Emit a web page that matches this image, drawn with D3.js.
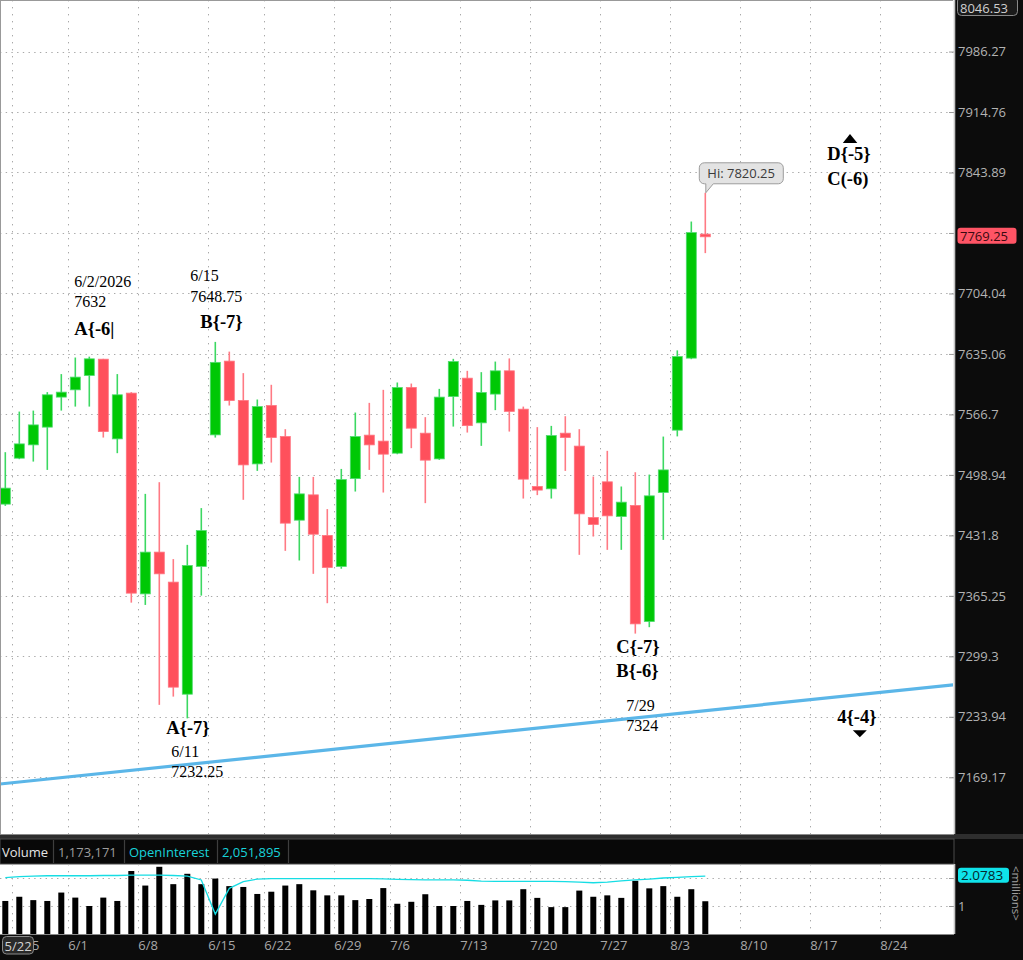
<!DOCTYPE html>
<html lang="en">
<head>
<meta charset="UTF-8">
<title>candles</title>
<script src="https://cdn.jsdelivr.net/npm/d3@7/dist/d3.min.js"></script>
<style>
  body { margin: 0; background: #0c0c0c; overflow: hidden; }
  svg { display: block; }
</style>
</head>
<body>
<script>
  // ---- data ----
  var dates = ["5/22","5/26","5/27","5/28","5/29","6/1","6/2","6/3","6/4","6/5",
    "6/8","6/9","6/10","6/11","6/12","6/15","6/16","6/17","6/18","6/22",
    "6/23","6/24","6/25","6/26","6/29","6/30","7/1","7/2","7/6","7/7",
    "7/8","7/9","7/10","7/13","7/14","7/15","7/16","7/17","7/20","7/21",
    "7/22","7/23","7/24","7/27","7/28","7/29","7/30","7/31","8/3","8/4","8/5"];
  var opens = [7466.4,7517.6,7532.5,7552.4,7586.2,7594.4,7610.6,7629.1,7539.2,7590.7,
    7367.4,7413.3,7380.3,7258.3,7397.5,7543.7,7626.9,7582.3,7511.2,7576.7,
    7541.8,7448.6,7476.7,7431.6,7397.5,7494.8,7543.4,7536.7,7523.2,7597.0,
    7545.6,7516.8,7586.8,7607.6,7557.2,7589.6,7615.9,7572.6,7486.0,7483.4,
    7545.6,7531.1,7451.5,7491.2,7452.6,7464.9,7337.1,7479.3,7549.0,7630.3,7772.3];
  var highs = [7524.3,7569.9,7571.0,7591.8,7612.2,7631.0,7632.0,7629.5,7612.2,7591.8,
    7477.8,7490.8,7405.6,7421.3,7462.0,7648.75,7637.7,7613.3,7583.5,7600.1,
    7550.1,7496.7,7496.7,7460.9,7505.6,7568.8,7579.7,7594.4,7602.7,7601.5,
    7563.6,7595.5,7629.5,7615.9,7614.4,7626.4,7630.0,7575.5,7552.4,7553.8,
    7564.7,7550.1,7497.1,7525.8,7486.0,7501.9,7499.3,7541.8,7639.1,7786.9,7820.25];
  var lows = [7464.5,7516.5,7513.8,7504.5,7571.0,7575.5,7575.5,7540.7,7523.2,7357.8,
    7355.3,7246.8,7255.7,7232.25,7365.5,7540.7,7576.7,7471.2,7503.4,7512.7,
    7414.7,7404.1,7389.4,7357.2,7395.0,7480.4,7504.5,7479.3,7522.0,7528.8,
    7467.5,7515.7,7553.0,7546.3,7531.4,7571.5,7547.4,7472.6,7476.4,7472.6,
    7503.4,7410.3,7430.5,7415.8,7415.8,7324.0,7331.0,7426.8,7542.0,7629.1,7750.4];
  var closes = [7484.2,7533.6,7554.9,7588.8,7591.8,7608.8,7629.5,7547.4,7588.8,7368.2,
    7413.3,7389.4,7265.9,7398.6,7437.1,7625.5,7582.3,7510.1,7575.5,7540.7,
    7445.3,7477.8,7433.1,7396.4,7493.7,7541.8,7532.5,7522.1,7597.0,7551.2,
    7515.4,7586.2,7626.4,7554.1,7591.4,7615.9,7570.1,7494.2,7482.0,7542.9,
    7540.7,7455.6,7443.8,7453.4,7468.6,7334.6,7475.6,7504.5,7632.1,7774.1,7769.25];
  // volume and open interest, millions
  var volumes = [1.18,1.33,1.21,1.18,1.48,1.30,1.00,1.30,1.18,2.25,
    1.73,2.40,1.78,2.15,1.78,1.98,1.71,1.68,1.43,1.51,
    1.73,1.78,1.56,1.38,1.38,1.21,1.25,1.64,1.08,1.15,
    1.42,1.00,1.00,1.18,1.04,1.20,1.20,1.60,1.29,0.96,
    0.96,1.55,1.33,1.38,1.29,1.90,1.63,1.71,1.33,1.60,1.17];
  var openInterest = [2.01,2.05,2.07,2.08,2.08,2.08,2.08,2.09,2.09,2.10,
    2.10,2.10,2.09,2.07,1.93,0.71,1.63,1.87,1.96,1.98,
    1.98,1.98,1.98,1.98,1.98,1.98,1.98,1.97,1.95,1.94,
    1.93,1.93,1.93,1.92,1.89,1.88,1.88,1.88,1.88,1.88,
    1.87,1.85,1.83,1.85,1.90,1.93,1.96,2.00,2.02,2.05,2.07];
  var priceTicks = [7986.27,7914.76,7843.89,7773.66,7704.04,7635.06,7566.7,
    7498.94,7431.8,7365.25,7299.3,7233.94,7169.17];
  var priceTop = 8046.53;
  var volumeTicks = [0, 1, 2];
  var weekLabels = ["5/25","6/1","6/8","6/15","6/22","6/29","7/6","7/13",
    "7/20","7/27","8/3","8/10","8/17","8/24"];
  var holidays = ["5/25","6/19","7/3"];
  var trendline = [{i: -0.38, p: 7162.0}, {i: 67.7, p: 7268.4}];
  var headerCells = ["Volume", "1,173,171", "OpenInterest", "2,051,895"];
  var oiLast = "2.0783";

  // ---- layout ----
  var width = 1023, height = 960;
  var plotRight = 953;
  var priceBottom = 834, volTop = 864, volBottom = 934;

  var svg = d3.select("body").append("svg")
      .attr("width", width).attr("height", height)
      .style("font-family", "'Open Sans', sans-serif");

  svg.append("rect").attr("width", width).attr("height", height).attr("fill", "#0c0c0c");
  svg.append("rect").attr("x", 0).attr("y", 0).attr("width", plotRight + 1)
      .attr("height", priceBottom).attr("fill", "#fff");
  svg.append("rect").attr("x", 0).attr("y", volTop).attr("width", plotRight + 1)
      .attr("height", volBottom - volTop).attr("fill", "#fff");

  var defs = svg.append("defs");
  defs.append("clipPath").attr("id", "clipPrice").append("rect")
      .attr("x", 0).attr("y", 0).attr("width", plotRight).attr("height", priceBottom);
  defs.append("clipPath").attr("id", "clipVol").append("rect")
      .attr("x", 0).attr("y", volTop).attr("width", plotRight).attr("height", volBottom - volTop);
  // local coords of the axis group (translated to x=954)
  defs.append("clipPath").attr("id", "clipVolAxis").append("rect")
      .attr("x", -10).attr("y", volTop - 4).attr("width", 80).attr("height", volBottom - volTop + 3);

  // ---- scales ----
  var x = d3.scaleLinear().domain([0, 50]).range([5.3, 705.3]);
  var y = d3.scaleLog().domain([7110, priceTop]).range([833, 1]);
  var yv = d3.scaleLinear().domain([0, 2.5]).range([volBottom, volTop]);

  // trading sessions, used to place the weekly grid
  var parse = function(s) { var a = s.split("/"); return new Date(2026, +a[0] - 1, +a[1]); };
  var fmt = d3.timeFormat("%-m/%-d");
  var sessions = d3.timeDay.range(parse("5/22"), parse("9/10"))
      .filter(function(d) { return d.getDay() % 6 !== 0 && holidays.indexOf(fmt(d)) < 0; });
  var weeks = weekLabels.map(function(w) {
    var t = parse(w);
    var idx = sessions.findIndex(function(d) { return d >= t; });
    return {label: w, pos: idx - 0.5};
  });

  var candles = dates.map(function(d, i) {
    return {i: i, date: d, o: opens[i], h: highs[i], l: lows[i], c: closes[i]};
  });
  var isUp = function(d) { return d.c >= d.o; };
  var last = candles[candles.length - 1];

  // ---- price panel ----
  var price = svg.append("g").attr("clip-path", "url(#clipPrice)");

  price.selectAll(".hgrid").data(priceTicks).join("line")
      .attr("x1", 0).attr("x2", plotRight)
      .attr("y1", function(d) { return Math.round(y(d)) + 0.5; })
      .attr("y2", function(d) { return Math.round(y(d)) + 0.5; })
      .attr("stroke", "#a9a9a9").attr("stroke-dasharray", "1.4,4.3");
  price.selectAll(".vgrid").data(weeks).join("line")
      .attr("x1", function(d) { return Math.round(x(d.pos)) + 0.5; })
      .attr("x2", function(d) { return Math.round(x(d.pos)) + 0.5; })
      .attr("y1", 0).attr("y2", priceBottom)
      .attr("stroke", "#a9a9a9").attr("stroke-dasharray", "1.4,5.6");

  // trend line
  price.append("line")
      .attr("x1", x(trendline[0].i)).attr("y1", y(trendline[0].p))
      .attr("x2", x(trendline[1].i)).attr("y2", y(trendline[1].p))
      .attr("stroke", "#5bb6e8").attr("stroke-width", 3.2);

  // candles
  price.selectAll(".wick").data(candles).join("line")
      .attr("x1", function(d) { return x(d.i); })
      .attr("x2", function(d) { return x(d.i); })
      .attr("y1", function(d) { return y(d.h); })
      .attr("y2", function(d) { return y(d.l); })
      .attr("stroke", function(d) { return isUp(d) ? "#3cd862" : "#ff7a84"; })
      .attr("stroke-width", 1.6);
  price.selectAll(".body").data(candles).join("rect")
      .attr("x", function(d) { return x(d.i) - 5; })
      .attr("width", 10)
      .attr("y", function(d) { return y(Math.max(d.o, d.c)); })
      .attr("height", function(d) { return Math.max(2, Math.abs(y(d.o) - y(d.c))); })
      .attr("fill", function(d) { return isUp(d) ? "#00c805" : "#ff505c"; })
      .attr("stroke", function(d) { return isUp(d) ? "#4fdc70" : "#ff7480"; })
      .attr("stroke-width", 0.8);

  // text annotations, offsets relative to an anchor candle / price
  var notes = [
    {i: 6, p: 7632, lines: [["6/2/2026", -15, -70, 0], ["7632", -15, -50, 0], ["A{-6|", -15, -22, 1]]},
    {i: 15, p: 7648.75, lines: [["6/15", -25, -61, 0], ["7648.75", -25, -40, 0], ["B{-7}", -15, -14, 1]]},
    {i: 13, p: 7232.25, lines: [["A{-7}", -21, 16, 1], ["6/11", -16, 39, 0], ["7232.25", -16, 59, 0]]},
    {i: 45, p: 7324, lines: [["C{-7}", -19, 19, 1], ["B{-6}", -19, 43, 1], ["7/29", -9, 77, 0], ["7324", -9, 97, 0]]},
    {i: 60, p: 7880, lines: [["D{-5}", -18, 18, 1], ["C(-6)", -18, 43.5, 1]]},
    {i: 61, p: 7220, lines: [["4{-4}", -22, -7, 1]]}
  ];
  notes.forEach(function(n) {
    var ax = x(n.i), ay = y(n.p);
    price.selectAll(null).data(n.lines).join("text")
        .attr("x", function(l) { return ax + l[1]; })
        .attr("y", function(l) { return ay + l[2]; })
        .attr("font-family", "'Liberation Serif', 'Times New Roman', serif")
        .attr("font-size", function(l) { return l[3] ? 18.5 : 16; })
        .attr("font-weight", function(l) { return l[3] ? "bold" : "normal"; })
        .attr("fill", "#000")
        .text(function(l) { return l[0]; });
  });
  // up / down markers
  var upAx = x(60), upAy = y(7880);
  price.append("path")
      .attr("d", "M" + (upAx - 2.5) + "," + (upAy + 1.5) + "L" + (upAx + 12) + "," + (upAy + 1.5) +
        "L" + (upAx + 4.7) + "," + (upAy - 7.5) + "Z")
      .attr("fill", "#000");
  var dnAx = x(61), dnAy = y(7220);
  price.append("path")
      .attr("d", "M" + (dnAx - 6.5) + "," + (dnAy + 0.5) + "L" + (dnAx + 7.5) + "," + (dnAy + 0.5) +
        "L" + (dnAx + 0.5) + "," + (dnAy + 7.5) + "Z")
      .attr("fill", "#000");

  // high callout on the last bar
  var hx = x(last.i), hy = y(last.h);
  var bx0 = hx - 6, bx1 = hx + 78, by0 = hy - 30, by1 = hy - 9, r = 5;
  var callout = "M" + (bx0 + r) + "," + by0 + "H" + (bx1 - r) +
      "A" + r + "," + r + " 0 0 1 " + bx1 + "," + (by0 + r) + "V" + (by1 - r) +
      "A" + r + "," + r + " 0 0 1 " + (bx1 - r) + "," + by1 + "H" + (hx + 8) +
      "L" + (hx + 0.5) + "," + hy + "L" + (hx + 0.5) + "," + by1 + "H" + (bx0 + r) +
      "A" + r + "," + r + " 0 0 1 " + bx0 + "," + (by1 - r) + "V" + (by0 + r) +
      "A" + r + "," + r + " 0 0 1 " + (bx0 + r) + "," + by0 + "Z";
  price.append("path").attr("d", callout)
      .attr("fill", "#e3e3e3").attr("stroke", "#9c9c9c").attr("stroke-width", 1);
  price.append("text").attr("x", hx + 2).attr("y", hy - 14.5)
      .attr("font-size", 13).attr("fill", "#3a3a3a")
      .text("Hi: " + last.h);

  // panel borders
  svg.append("line").attr("x1", 0).attr("x2", plotRight).attr("y1", 0.5).attr("y2", 0.5)
      .attr("stroke", "#999");
  svg.append("line").attr("x1", 0.5).attr("x2", 0.5).attr("y1", 0).attr("y2", priceBottom)
      .attr("stroke", "#999");

  // ---- right price axis ----
  var lastY = y(last.c);
  var axisP = svg.append("g").attr("transform", "translate(954,0)")
      .call(d3.axisRight(y).tickValues(priceTicks).tickSize(-5).tickPadding(4)
        .tickFormat(function(d) { return String(d); }));
  axisP.select(".domain").remove();
  axisP.selectAll(".tick line").attr("stroke", "#9a9a9a");
  axisP.selectAll(".tick text").attr("fill", "#b3b3b3")
      .attr("font-size", 13).attr("font-family", "'Open Sans', sans-serif");
  // the last-price box hides the tick label it sits on
  axisP.selectAll(".tick").filter(function(d) { return Math.abs(y(d) - lastY) < 14; })
      .select("text").remove();
  svg.append("line").attr("x1", 954.5).attr("x2", 954.5).attr("y1", 0).attr("y2", priceBottom)
      .attr("stroke", "#c4c4c4").attr("stroke-width", 1.6);

  // top value box
  svg.append("rect").attr("x", 957.5).attr("y", -3).attr("width", 60).attr("height", 18.5)
      .attr("rx", 4).attr("fill", "#1b1b1b").attr("stroke", "#8a8a8a");
  svg.append("text").attr("x", 960).attr("y", 12.5).attr("font-size", 13)
      .attr("fill", "#cfcfcf").text(String(priceTop));

  // last price box
  svg.append("rect").attr("x", 957.5).attr("y", lastY - 9).attr("width", 59).attr("height", 16)
      .attr("rx", 3).attr("fill", "#ff5465");
  svg.append("text").attr("x", 960).attr("y", lastY + 4.3).attr("font-size", 13)
      .attr("fill", "#3a0a10").text(last.c.toFixed(2));

  // ---- separator + header row ----
  svg.append("rect").attr("x", 0).attr("y", priceBottom).attr("width", width).attr("height", 5)
      .attr("fill", "#2e2e2e");
  svg.append("line").attr("x1", 0).attr("x2", plotRight + 1).attr("y1", priceBottom + 0.5)
      .attr("y2", priceBottom + 0.5).attr("stroke", "#8a8a8a");
  svg.append("rect").attr("x", 0).attr("y", 839).attr("width", plotRight + 1).attr("height", 25)
      .attr("fill", "#080808").attr("stroke", "#4a4a4a");
  var cellX = [2, 58, 129, 222], cellSep = [53, 124, 217, 288];
  var cellColor = ["#e4e4e4", "#9d9d9d", "#18d3da", "#18d3da"];
  svg.selectAll(".hcell").data(headerCells).join("text")
      .attr("x", function(d, i) { return cellX[i]; }).attr("y", 856.5)
      .attr("font-size", 13).attr("fill", function(d, i) { return cellColor[i]; })
      .text(function(d) { return d; });
  svg.selectAll(".hsep").data(cellSep).join("line")
      .attr("x1", function(d) { return d + 0.5; }).attr("x2", function(d) { return d + 0.5; })
      .attr("y1", 840).attr("y2", 863).attr("stroke", "#3e3e3e").attr("stroke-width", 1.2);

  // ---- volume panel ----
  var vol = svg.append("g").attr("clip-path", "url(#clipVol)");
  vol.selectAll(".vhgrid").data(volumeTicks.slice(1)).join("line")
      .attr("x1", 0).attr("x2", plotRight)
      .attr("y1", function(d) { return Math.round(yv(d)) + 0.5; })
      .attr("y2", function(d) { return Math.round(yv(d)) + 0.5; })
      .attr("stroke", "#a9a9a9").attr("stroke-dasharray", "1.4,4.3");
  vol.selectAll(".vvgrid").data(weeks).join("line")
      .attr("x1", function(d) { return Math.round(x(d.pos)) + 0.5; })
      .attr("x2", function(d) { return Math.round(x(d.pos)) + 0.5; })
      .attr("y1", volTop).attr("y2", volBottom)
      .attr("stroke", "#a9a9a9").attr("stroke-dasharray", "1.4,5.6");
  vol.selectAll(".vbar").data(volumes).join("rect")
      .attr("x", function(d, i) { return x(i) - 3; })
      .attr("width", 6)
      .attr("y", function(d) { return yv(d); })
      .attr("height", function(d) { return yv(0) - yv(d); })
      .attr("fill", "#000");
  vol.append("path").datum(openInterest)
      .attr("d", d3.line().x(function(d, i) { return x(i); }).y(function(d) { return yv(d); }))
      .attr("fill", "none").attr("stroke", "#16dde4").attr("stroke-width", 1.3);

  var oiY = yv(+oiLast);
  var axisV = svg.append("g").attr("transform", "translate(954,0)")
      .attr("clip-path", "url(#clipVolAxis)")
      .call(d3.axisRight(yv).tickValues(volumeTicks).tickSize(-5).tickPadding(4)
        .tickFormat(d3.format("d")));
  axisV.select(".domain").remove();
  axisV.selectAll(".tick line").attr("stroke", "#9a9a9a");
  axisV.selectAll(".tick text").attr("fill", "#b3b3b3")
      .attr("font-size", 13).attr("font-family", "'Open Sans', sans-serif");
  // the open-interest box hides the label it sits on; the zero label is cut by the panel edge
  axisV.selectAll(".tick").filter(function(d) { return Math.abs(yv(d) - oiY) < 10 || d === 0; })
      .select("text").remove();
  svg.append("line").attr("x1", 954.5).attr("x2", 954.5).attr("y1", volTop).attr("y2", volBottom)
      .attr("stroke", "#c4c4c4").attr("stroke-width", 1.6);

  svg.append("rect").attr("x", 958).attr("y", oiY - 8).attr("width", 51).attr("height", 15)
      .attr("rx", 3).attr("fill", "#0fe3ea");
  svg.append("text").attr("x", 961).attr("y", oiY + 4.5).attr("font-size", 13.5)
      .attr("fill", "#06262a").text(oiLast);
  svg.append("text").attr("transform", "translate(1012," + (volTop + 2) + ") rotate(90)")
      .attr("font-size", 11.5).attr("fill", "#a0a0a0").text("<millions>");

  // ---- date axis ----
  svg.append("line").attr("x1", 0).attr("x2", plotRight + 1).attr("y1", volBottom + 0.5)
      .attr("y2", volBottom + 0.5).attr("stroke", "#888");
  var axisX = svg.append("g").attr("transform", "translate(0," + (volBottom + 1) + ")")
      .call(d3.axisBottom(x).tickValues(weeks.map(function(d) { return d.pos; }))
        .tickSize(0).tickPadding(4)
        .tickFormat(function(d, i) { return weeks[i].label; }));
  axisX.select(".domain").remove();
  axisX.selectAll(".tick text").attr("fill", "#a8a8a8").attr("font-size", 13)
      .attr("font-family", "'Open Sans', sans-serif")
      .attr("text-anchor", "start").attr("dx", -0.5).attr("dy", "0.85em");

  // first-visible-date box over the axis start
  svg.append("rect").attr("x", 2.5).attr("y", 936.5).attr("width", 31).attr("height", 17.5)
      .attr("rx", 4).attr("fill", "#2a2a2a").attr("stroke", "#8a8a8a");
  svg.append("text").attr("x", 4.5).attr("y", 950.5).attr("font-size", 13)
      .attr("fill", "#d4d4d4").text(dates[0]);
</script>
</body>
</html>
